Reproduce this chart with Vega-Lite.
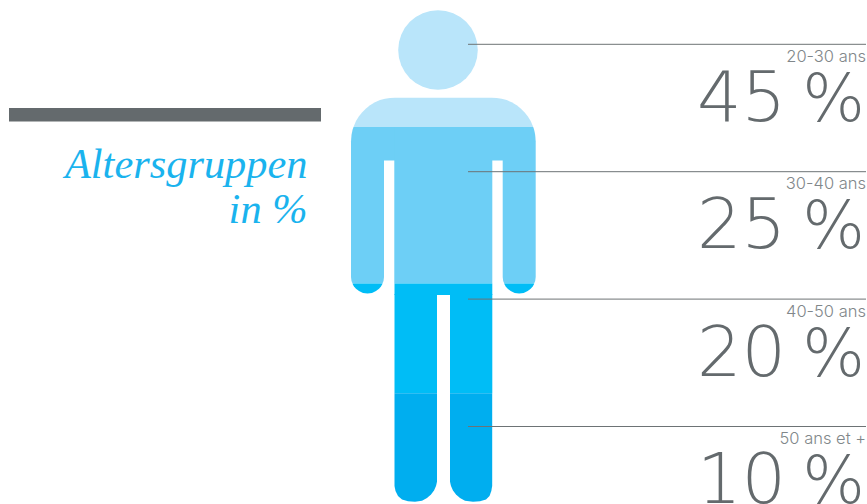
{
  "$schema": "https://vega.github.io/schema/vega-lite/v6.json",
  "width": 867,
  "height": 504,
  "padding": 0,
  "autosize": {"type": "none"},
  "background": "#ffffff",
  "config": {"view": {"stroke": null}, "axis": {"disable": true}},
  "datasets": {
    "groups": [
      {"group": "20-30 ans", "share": 45},
      {"group": "30-40 ans", "share": 25},
      {"group": "40-50 ans", "share": 20},
      {"group": "50 ans et +", "share": 10}
    ],
    "figure": [
      {"group": "20-30 ans", "part": "shoulders", "x": 353.5, "top": 127, "bottom": 127},
      {"group": "20-30 ans", "part": "shoulders", "x": 356, "top": 121.1, "bottom": 127},
      {"group": "20-30 ans", "part": "shoulders", "x": 359, "top": 116.2, "bottom": 127},
      {"group": "20-30 ans", "part": "shoulders", "x": 362, "top": 112.4, "bottom": 127},
      {"group": "20-30 ans", "part": "shoulders", "x": 366, "top": 108.4, "bottom": 127},
      {"group": "20-30 ans", "part": "shoulders", "x": 370, "top": 105.3, "bottom": 127},
      {"group": "20-30 ans", "part": "shoulders", "x": 375, "top": 102.3, "bottom": 127},
      {"group": "20-30 ans", "part": "shoulders", "x": 380, "top": 100.1, "bottom": 127},
      {"group": "20-30 ans", "part": "shoulders", "x": 385, "top": 98.7, "bottom": 127},
      {"group": "20-30 ans", "part": "shoulders", "x": 390, "top": 97.9, "bottom": 127},
      {"group": "20-30 ans", "part": "shoulders", "x": 395, "top": 97.7, "bottom": 127},
      {"group": "20-30 ans", "part": "shoulders", "x": 491.7, "top": 97.7, "bottom": 127},
      {"group": "20-30 ans", "part": "shoulders", "x": 496.7, "top": 97.9, "bottom": 127},
      {"group": "20-30 ans", "part": "shoulders", "x": 501.7, "top": 98.7, "bottom": 127},
      {"group": "20-30 ans", "part": "shoulders", "x": 506.7, "top": 100.1, "bottom": 127},
      {"group": "20-30 ans", "part": "shoulders", "x": 511.7, "top": 102.3, "bottom": 127},
      {"group": "20-30 ans", "part": "shoulders", "x": 516.7, "top": 105.3, "bottom": 127},
      {"group": "20-30 ans", "part": "shoulders", "x": 520.7, "top": 108.4, "bottom": 127},
      {"group": "20-30 ans", "part": "shoulders", "x": 524.7, "top": 112.4, "bottom": 127},
      {"group": "20-30 ans", "part": "shoulders", "x": 527.7, "top": 116.2, "bottom": 127},
      {"group": "20-30 ans", "part": "shoulders", "x": 530.7, "top": 121.1, "bottom": 127},
      {"group": "20-30 ans", "part": "shoulders", "x": 533.2, "top": 127, "bottom": 127},

      {"group": "30-40 ans", "part": "left arm", "x": 351, "top": 141.5, "bottom": 277},
      {"group": "30-40 ans", "part": "left arm", "x": 351.5, "top": 134.9, "bottom": 281},
      {"group": "30-40 ans", "part": "left arm", "x": 352.5, "top": 130.1, "bottom": 283.3},
      {"group": "30-40 ans", "part": "left arm", "x": 353.5, "top": 127, "bottom": 283.5},
      {"group": "30-40 ans", "part": "left arm", "x": 382.4, "top": 127, "bottom": 283.5},
      {"group": "30-40 ans", "part": "left arm", "x": 383.5, "top": 127, "bottom": 281},
      {"group": "30-40 ans", "part": "left arm", "x": 384, "top": 127, "bottom": 277},
      {"group": "30-40 ans", "part": "left armpit", "x": 383, "top": 127, "bottom": 160.5},
      {"group": "30-40 ans", "part": "left armpit", "x": 396, "top": 127, "bottom": 160.5},
      {"group": "30-40 ans", "part": "torso", "x": 394.3, "top": 127, "bottom": 283.5},
      {"group": "30-40 ans", "part": "torso", "x": 492.3, "top": 127, "bottom": 283.5},
      {"group": "30-40 ans", "part": "right armpit", "x": 491, "top": 127, "bottom": 160.5},
      {"group": "30-40 ans", "part": "right armpit", "x": 504, "top": 127, "bottom": 160.5},
      {"group": "30-40 ans", "part": "right arm", "x": 502.7, "top": 127, "bottom": 277},
      {"group": "30-40 ans", "part": "right arm", "x": 503.2, "top": 127, "bottom": 281},
      {"group": "30-40 ans", "part": "right arm", "x": 504.3, "top": 127, "bottom": 283.5},
      {"group": "30-40 ans", "part": "right arm", "x": 533.2, "top": 127, "bottom": 283.5},
      {"group": "30-40 ans", "part": "right arm", "x": 534.2, "top": 130.1, "bottom": 283.3},
      {"group": "30-40 ans", "part": "right arm", "x": 535.2, "top": 134.9, "bottom": 281},
      {"group": "30-40 ans", "part": "right arm", "x": 535.7, "top": 141.5, "bottom": 277},

      {"group": "40-50 ans", "part": "left hand", "x": 352.6, "top": 283.5, "bottom": 284.1},
      {"group": "40-50 ans", "part": "left hand", "x": 354, "top": 283.5, "bottom": 286.5},
      {"group": "40-50 ans", "part": "left hand", "x": 356, "top": 283.5, "bottom": 288.8},
      {"group": "40-50 ans", "part": "left hand", "x": 359, "top": 283.5, "bottom": 291.1},
      {"group": "40-50 ans", "part": "left hand", "x": 363, "top": 283.5, "bottom": 292.9},
      {"group": "40-50 ans", "part": "left hand", "x": 367.5, "top": 283.5, "bottom": 293.5},
      {"group": "40-50 ans", "part": "left hand", "x": 372, "top": 283.5, "bottom": 292.9},
      {"group": "40-50 ans", "part": "left hand", "x": 376, "top": 283.5, "bottom": 291.1},
      {"group": "40-50 ans", "part": "left hand", "x": 379, "top": 283.5, "bottom": 288.8},
      {"group": "40-50 ans", "part": "left hand", "x": 381, "top": 283.5, "bottom": 286.5},
      {"group": "40-50 ans", "part": "left hand", "x": 382.4, "top": 283.5, "bottom": 284.1},
      {"group": "40-50 ans", "part": "right hand", "x": 504.3, "top": 283.5, "bottom": 284.1},
      {"group": "40-50 ans", "part": "right hand", "x": 505.7, "top": 283.5, "bottom": 286.5},
      {"group": "40-50 ans", "part": "right hand", "x": 507.7, "top": 283.5, "bottom": 288.8},
      {"group": "40-50 ans", "part": "right hand", "x": 510.7, "top": 283.5, "bottom": 291.1},
      {"group": "40-50 ans", "part": "right hand", "x": 514.7, "top": 283.5, "bottom": 292.9},
      {"group": "40-50 ans", "part": "right hand", "x": 519.2, "top": 283.5, "bottom": 293.5},
      {"group": "40-50 ans", "part": "right hand", "x": 523.7, "top": 283.5, "bottom": 292.9},
      {"group": "40-50 ans", "part": "right hand", "x": 527.7, "top": 283.5, "bottom": 291.1},
      {"group": "40-50 ans", "part": "right hand", "x": 530.7, "top": 283.5, "bottom": 288.8},
      {"group": "40-50 ans", "part": "right hand", "x": 532.7, "top": 283.5, "bottom": 286.5},
      {"group": "40-50 ans", "part": "right hand", "x": 534.1, "top": 283.5, "bottom": 284.1},
      {"group": "40-50 ans", "part": "hips", "x": 394.5, "top": 283.5, "bottom": 295},
      {"group": "40-50 ans", "part": "hips", "x": 492.3, "top": 283.5, "bottom": 295},
      {"group": "40-50 ans", "part": "left thigh", "x": 394.5, "top": 294, "bottom": 393.3},
      {"group": "40-50 ans", "part": "left thigh", "x": 437, "top": 294, "bottom": 393.3},
      {"group": "40-50 ans", "part": "right thigh", "x": 450, "top": 294, "bottom": 393.3},
      {"group": "40-50 ans", "part": "right thigh", "x": 492.3, "top": 294, "bottom": 393.3},

      {"group": "50 ans et +", "part": "left shin", "x": 394.5, "top": 393.3, "bottom": 486},
      {"group": "50 ans et +", "part": "left shin", "x": 395.5, "top": 393.3, "bottom": 491},
      {"group": "50 ans et +", "part": "left shin", "x": 398, "top": 393.3, "bottom": 496},
      {"group": "50 ans et +", "part": "left shin", "x": 402, "top": 393.3, "bottom": 499.5},
      {"group": "50 ans et +", "part": "left shin", "x": 408, "top": 393.3, "bottom": 501.2},
      {"group": "50 ans et +", "part": "left shin", "x": 415, "top": 393.3, "bottom": 501.8},
      {"group": "50 ans et +", "part": "left shin", "x": 422, "top": 393.3, "bottom": 500.7},
      {"group": "50 ans et +", "part": "left shin", "x": 427, "top": 393.3, "bottom": 498},
      {"group": "50 ans et +", "part": "left shin", "x": 431, "top": 393.3, "bottom": 494.5},
      {"group": "50 ans et +", "part": "left shin", "x": 434, "top": 393.3, "bottom": 490.5},
      {"group": "50 ans et +", "part": "left shin", "x": 436, "top": 393.3, "bottom": 486},
      {"group": "50 ans et +", "part": "left shin", "x": 437, "top": 393.3, "bottom": 481.7},
      {"group": "50 ans et +", "part": "right shin", "x": 450, "top": 393.3, "bottom": 481.7},
      {"group": "50 ans et +", "part": "right shin", "x": 451, "top": 393.3, "bottom": 486},
      {"group": "50 ans et +", "part": "right shin", "x": 453, "top": 393.3, "bottom": 490.5},
      {"group": "50 ans et +", "part": "right shin", "x": 456, "top": 393.3, "bottom": 494.5},
      {"group": "50 ans et +", "part": "right shin", "x": 460, "top": 393.3, "bottom": 498},
      {"group": "50 ans et +", "part": "right shin", "x": 465, "top": 393.3, "bottom": 500.7},
      {"group": "50 ans et +", "part": "right shin", "x": 473, "top": 393.3, "bottom": 501.8},
      {"group": "50 ans et +", "part": "right shin", "x": 480, "top": 393.3, "bottom": 501.2},
      {"group": "50 ans et +", "part": "right shin", "x": 486, "top": 393.3, "bottom": 499.5},
      {"group": "50 ans et +", "part": "right shin", "x": 489.5, "top": 393.3, "bottom": 496},
      {"group": "50 ans et +", "part": "right shin", "x": 491.3, "top": 393.3, "bottom": 491},
      {"group": "50 ans et +", "part": "right shin", "x": 492.2, "top": 393.3, "bottom": 486}
    ]
  },
  "resolve": {"scale": {"y": "independent"}},
  "layer": [
    {
      "data": {"name": "figure"},
      "mark": {"type": "area", "interpolate": "linear"},
      "encoding": {
        "x": {"field": "x", "type": "quantitative", "scale": {"domain": [0, 867], "nice": false, "zero": false}},
        "y": {"field": "top", "type": "quantitative", "stack": null, "scale": {"domain": [504, 0], "nice": false, "zero": false}},
        "y2": {"field": "bottom"},
        "detail": {"field": "part", "type": "nominal"},
        "color": {
          "field": "group",
          "type": "nominal",
          "legend": null,
          "scale": {
            "domain": ["20-30 ans", "30-40 ans", "40-50 ans", "50 ans et +"],
            "range": ["#b9e5fa", "#6dcff6", "#00bdf6", "#00aeef"]
          }
        }
      }
    },
    {
      "data": {"values": [{"group": "20-30 ans", "part": "head"}]},
      "mark": {"type": "point", "shape": "circle", "filled": true, "opacity": 1, "size": 6336},
      "encoding": {
        "x": {"datum": 438, "type": "quantitative"},
        "y": {"datum": 50, "type": "quantitative", "scale": {"domain": [504, 0], "nice": false, "zero": false}},
        "color": {"field": "group", "type": "nominal", "legend": null}
      }
    },
    {
      "data": {"values": [{"part": "header bar"}]},
      "mark": {"type": "rect", "color": "#646a6d"},
      "encoding": {
        "x": {"datum": 9, "type": "quantitative"},
        "x2": {"datum": 321},
        "y": {"datum": 108, "type": "quantitative", "scale": {"domain": [504, 0], "nice": false, "zero": false}},
        "y2": {"datum": 121.5}
      }
    },
    {
      "data": {"values": [{"line": "Altersgruppen"}]},
      "mark": {"type": "text", "align": "right", "baseline": "alphabetic", "font": "Liberation Serif", "fontStyle": "italic", "fontSize": 42.4, "color": "#1ab3ee"},
      "encoding": {
        "x": {"datum": 307.5, "type": "quantitative"},
        "y": {"datum": 178, "type": "quantitative", "scale": {"domain": [504, 0], "nice": false, "zero": false}},
        "text": {"field": "line", "type": "nominal"}
      }
    },
    {
      "data": {"values": [{"line": "in %"}]},
      "mark": {"type": "text", "align": "right", "baseline": "alphabetic", "font": "Liberation Serif", "fontStyle": "italic", "fontSize": 42.4, "color": "#1ab3ee"},
      "encoding": {
        "x": {"datum": 307.5, "type": "quantitative"},
        "y": {"datum": 223, "type": "quantitative", "scale": {"domain": [504, 0], "nice": false, "zero": false}},
        "text": {"field": "line", "type": "nominal"}
      }
    },
    {
      "data": {"name": "groups"},
      "mark": {"type": "rule", "color": "#6d7375", "strokeWidth": 1},
      "encoding": {
        "x": {"datum": 468, "type": "quantitative"},
        "x2": {"datum": 866},
        "y": {"field": "group", "type": "ordinal", "sort": null, "scale": {"type": "point", "padding": 0, "range": [44.3, 426.5]}}
      }
    },
    {
      "data": {"name": "groups"},
      "mark": {"type": "text", "align": "right", "baseline": "alphabetic", "dy": 17.5, "font": "Inter", "fontWeight": 300, "fontSize": 16.5, "color": "#81878a"},
      "encoding": {
        "x": {"datum": 866, "type": "quantitative"},
        "y": {"field": "group", "type": "ordinal", "sort": null, "scale": {"type": "point", "padding": 0, "range": [44.3, 426.5]}},
        "text": {"field": "group", "type": "nominal"}
      }
    },
    {
      "data": {"name": "groups"},
      "mark": {"type": "text", "align": "right", "baseline": "alphabetic", "dy": 76.5, "font": "DejaVu Sans", "fontWeight": 200, "fontSize": 70, "color": "#646a6d"},
      "encoding": {
        "x": {"datum": 786, "type": "quantitative"},
        "y": {"field": "group", "type": "ordinal", "sort": null, "scale": {"type": "point", "padding": 0, "range": [44.3, 426.5]}},
        "text": {"field": "share", "type": "nominal"}
      }
    },
    {
      "data": {"name": "groups"},
      "mark": {"type": "text", "align": "right", "baseline": "alphabetic", "dy": 76.5, "font": "DejaVu Sans", "fontWeight": 200, "fontSize": 66, "color": "#646a6d"},
      "encoding": {
        "x": {"datum": 865, "type": "quantitative"},
        "y": {"field": "group", "type": "ordinal", "sort": null, "scale": {"type": "point", "padding": 0, "range": [44.3, 426.5]}},
        "text": {"datum": "%", "type": "nominal"}
      }
    }
  ]
}
